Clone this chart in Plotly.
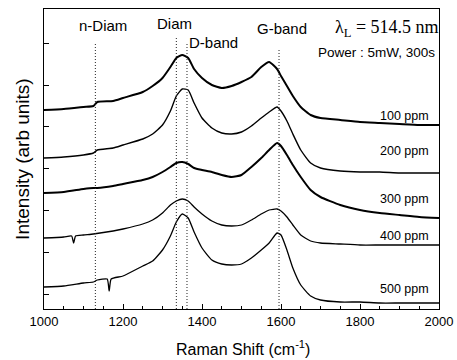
import plotly.graph_objects as go

# ---- data ----
x_100 = [1000,1050,1100,1125,1135,1175,1200,1250,1275,1300,1320,1335,1350,1365,1380,1400,1425,1450,1475,1500,1525,1550,1570,1590,1600,1615,1630,1650,1675,1700,1750,1800,1850,1900,1950,2000]
y_100 = [199,200,202,203,207,208,211,217,223,231,242,251,254,251,240,231,224,221,223,227,232,242,247,240,233,223,213,202,194,191,189,187,186,185,184,184]

x_200 = [1000,1050,1100,1125,1135,1175,1200,1250,1275,1300,1320,1335,1350,1365,1380,1400,1425,1450,1475,1500,1525,1550,1570,1590,1600,1615,1630,1650,1675,1700,1750,1800,1850,1900,1950,2000]
y_200 = [151,152,154,156,159,161,164,170,175,184,198,213,220,219,206,191,181,176,175,177,183,191,197,202,198,188,175,159,146,141,138,137,137,136,136,136]

x_300 = [1000,1050,1100,1125,1135,1175,1200,1250,1275,1300,1320,1335,1350,1365,1380,1400,1425,1450,1475,1500,1525,1550,1570,1590,1600,1615,1630,1650,1675,1700,1750,1800,1850,1900,1950,2000]
y_300 = [116,117,120,121,121,123,125,129,132,137,142,146,147,145,141,139,137,134,132,134,142,151,159,166,163,154,144,132,119,112,104,99,96,94,92,91]

x_400 = [1000,1050,1070,1075,1080,1100,1125,1175,1200,1250,1275,1300,1320,1335,1350,1365,1380,1400,1425,1450,1475,1500,1525,1550,1570,1590,1600,1615,1630,1650,1675,1700,1750,1800,1850,1900,1950,2000]
y_400 = [71,72,73,66,73,74,75,78,80,85,89,96,104,108,110,108,102,95,88,84,83,84,89,95,99,100,98,92,84,74,68,66,65,64,64,64,64,64]

x_500 = [1000,1050,1100,1125,1135,1160,1165,1170,1200,1250,1275,1300,1320,1335,1350,1365,1380,1400,1425,1450,1475,1500,1525,1550,1570,1590,1600,1615,1630,1650,1675,1700,1750,1800,1850,1900,1950,2000]
y_500 = [22,23,26,27,29,30,18,30,33,43,48,59,73,87,95,91,77,61,49,45,44,45,51,59,66,76,74,59,41,24,13,9,7,7,6,6,6,6]

series_names = ["100 ppm", "200 ppm", "300 ppm", "400 ppm", "500 ppm"]
series_x = [x_100, x_200, x_300, x_400, x_500]
series_y = [y_100, y_200, y_300, y_400, y_500]
label_y = [193, 158, 110, 73, 20]

band_names = ["n-Diam", "Diam", "D-band", "G-band"]
band_pos = [1130, 1335, 1362, 1595]
band_line_top = [266, 272, 266, 261]

x_ticks = [1000, 1200, 1400, 1600, 1800, 2000]

# ---- figure ----
fig = go.Figure()
widths = [2.0, 1.4, 2.0, 1.3, 1.3]
for name, xs, ys, w in zip(series_names, series_x, series_y, widths):
    fig.add_trace(go.Scatter(x=xs, y=ys, mode="lines", name=name,
                             line=dict(color="black", width=w, shape="spline", smoothing=0.5),
                             showlegend=False))

for pos, top in zip(band_pos, band_line_top):
    fig.add_shape(type="line", x0=pos, x1=pos, y0=0, y1=top, xref="x", yref="y",
                  line=dict(color="#222", width=1, dash="1px,2px"))

font = "Liberation Sans, Arial, sans-serif"
ann = []
band_lab_x = [1150, 1330, 1430, 1603]
band_lab_y = [284, 286, 267, 281]
for t, bx, by in zip(band_names, band_lab_x, band_lab_y):
    ann.append(dict(x=bx, y=by, text=t, showarrow=False, xref="x", yref="y",
                    font=dict(family=font, size=15, color="black")))
for t, ly in zip(series_names, label_y):
    ann.append(dict(x=1980, y=ly, text=t, showarrow=False, xref="x", yref="y", xanchor="right",
                    font=dict(family=font, size=12.5, color="black")))
ann.append(dict(x=1.005, y=0.935, text="λ<sub>L</sub> = 514.5 nm", showarrow=False, xref="paper", yref="paper",
                xanchor="right", yanchor="middle",
                font=dict(family="Liberation Serif, Times New Roman, serif", size=18, color="black")))
ann.append(dict(x=0.995, y=0.855, text="Power : 5mW, 300s", showarrow=False, xref="paper", yref="paper",
                xanchor="right", yanchor="middle", font=dict(family=font, size=13.5, color="black")))
# axis titles
ann.append(dict(x=-0.056, y=0.5, xref="paper", yref="paper", text="Intensity (arb units)", textangle=-90,
                xanchor="center", yanchor="middle",
                showarrow=False, font=dict(family=font, size=19, color="black")))
ann.append(dict(x=0.503, y=-0.13, xref="paper", yref="paper", text="Raman Shift (cm<sup>-1</sup>)",
                showarrow=False, xanchor="center", yanchor="middle", font=dict(family=font, size=16, color="black")))

fig.update_layout(
    width=457, height=360,
    margin=dict(l=44, r=18, t=9, b=51, autoexpand=False),
    paper_bgcolor="white", plot_bgcolor="white",
    annotations=ann,
    font=dict(family=font, color="black"),
)
fig.update_xaxes(range=[1000, 2000], tickvals=x_ticks, ticks="inside", ticklen=5, tickwidth=1,
                 tickcolor="black", automargin=False,
                 minor=dict(ticks="inside", ticklen=3, dtick=50, tickcolor="black"),
                 showline=True, linecolor="black", linewidth=1, mirror=True, showgrid=False, zeroline=False,
                 tickfont=dict(size=13, family=font))
fig.update_yaxes(range=[0, 300], tick0=15, dtick=41.8, ticks="inside", ticklen=5, tickcolor="black",
                 showticklabels=False, automargin=False,
                 showline=True, linecolor="black", linewidth=1, mirror=True, showgrid=False, zeroline=False)

fig.write_html("out.html", config={"displayModeBar": False},
               post_script="document.body.style.margin='0px';")
